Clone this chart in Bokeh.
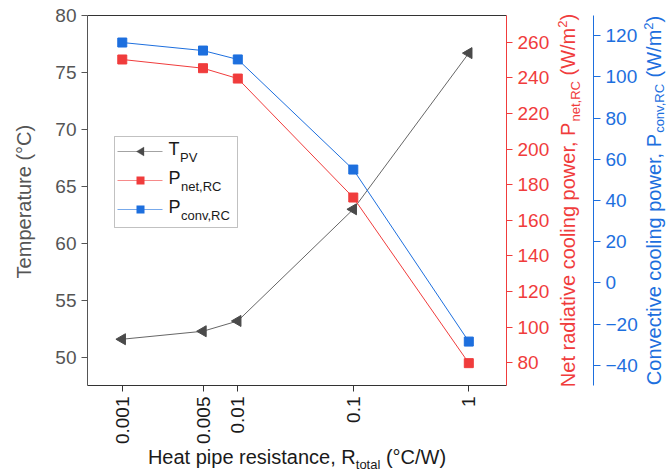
import math
from bokeh.plotting import figure
from bokeh.models import (Range1d, LinearAxis, LogAxis, FixedTicker, Label,
                          BoxAnnotation, PolyAnnotation)
from bokeh.embed import file_html
from bokeh.resources import INLINE

# ---------------- data ----------------
r_total = [0.001, 0.005, 0.01, 0.1, 1]
t_pv = [51.6, 52.3, 53.2, 63.0, 76.7]
p_net = [250.3, 245.4, 239.6, 172.8, 79.8]
p_conv = [116.6, 112.7, 108.4, 55.0, -28.4]

x_ticks = [0.001, 0.005, 0.01, 0.1, 1]
x_tick_labels = ["0.001", "0.005", "0.01", "0.1", "1"]
temp_ticks = [50, 55, 60, 65, 70, 75, 80]
net_ticks = [80, 100, 120, 140, 160, 180, 200, 220, 240, 260]
conv_ticks = [-40, -20, 0, 20, 40, 60, 80, 100, 120]

# visible axis spans
X_VIS = (0.0005, 2.12)
T_VIS = (47.54, 80.0)
NET_VIS = (67.25, 275.0)
CONV_VIS = (-49.7, 129.7)

# ---------------- style / layout ----------------
FONT = "Liberation Sans"
GRAY = "#555555"
DARK = "#333333"
BLACK = "#1a1a1a"
RED = "#f03c3c"
BLUE = "#1d6fde"
TICK_FS = "19px"
TITLE = 20
SUB = 13
BASELINE_FIX = 0.39   # observed offset of the alphabetic baseline, per px of font size

CW, CH = 667, 474
B_LEFT, B_TOP, B_RIGHT, B_BOTTOM = 87, 15, 506, 385   # plotting box on canvas
BLUE_AXIS_X = 593

W = {' ': 278, '(': 333, ')': 333, ',': 278, '.': 278, '/': 278, '°': 400,
     'A': 667, 'B': 667, 'C': 722, 'D': 722, 'E': 667, 'F': 611, 'G': 778, 'H': 722,
     'I': 278, 'J': 500, 'K': 667, 'L': 556, 'M': 833, 'N': 722, 'O': 778, 'P': 667,
     'Q': 778, 'R': 722, 'S': 667, 'T': 611, 'U': 722, 'V': 667, 'W': 944, 'X': 667,
     'Y': 667, 'Z': 611,
     'a': 556, 'b': 556, 'c': 500, 'd': 556, 'e': 556, 'f': 278, 'g': 556, 'h': 556,
     'i': 222, 'j': 222, 'k': 500, 'l': 222, 'm': 833, 'n': 556, 'o': 556, 'p': 556,
     'q': 556, 'r': 333, 's': 500, 't': 278, 'u': 556, 'v': 500, 'w': 722, 'x': 500,
     'y': 500, 'z': 500}
for d in "0123456789":
    W[d] = 556


def tw(s, size):
    return sum(W.get(c, 556) for c in s) / 1000.0 * size


# full-canvas frame: extend the visible spans so they land on the plotting box
lx0, lx1 = math.log10(X_VIS[0]), math.log10(X_VIS[1])
x_per_px = (lx1 - lx0) / (B_RIGHT - B_LEFT)
x_full = (10 ** (lx0 - B_LEFT * x_per_px), 10 ** (lx1 + (CW - B_RIGHT) * x_per_px))
blue_axis_loc = 10 ** (lx1 + (BLUE_AXIS_X - B_RIGHT) * x_per_px)


def y_full(vis):
    per = (vis[1] - vis[0]) / (B_BOTTOM - B_TOP)
    return (vis[0] - (CH - B_BOTTOM) * per, vis[1] + B_TOP * per)


p = figure(width=CW, height=CH, x_axis_type="log",
           x_range=Range1d(*x_full), y_range=Range1d(*y_full(T_VIS)),
           output_backend="svg", toolbar_location=None,
           min_border_left=0, min_border_right=0, min_border_top=0, min_border_bottom=0)
p.extra_y_ranges = {"net": Range1d(*y_full(NET_VIS)), "conv": Range1d(*y_full(CONV_VIS))}
p.xgrid.visible = False
p.ygrid.visible = False
p.outline_line_color = None
p.background_fill_color = "white"
p.border_fill_color = "white"


def style_axis(ax, color, label_color, tick_out=6):
    ax.axis_line_color = color
    ax.axis_line_width = 1
    ax.major_tick_line_color = color
    ax.major_tick_out = tick_out
    ax.major_tick_in = 0
    ax.minor_tick_line_color = None
    ax.major_label_text_font = FONT
    ax.major_label_text_font_size = TICK_FS
    ax.major_label_text_color = label_color
    ax.major_label_standoff = 5


# bottom axis
xa = p.xaxis[0]
xa.ticker = FixedTicker(ticks=x_ticks)
xa.major_label_overrides = dict(zip(x_ticks, x_tick_labels))
xa.major_label_orientation = math.pi / 2
xa.fixed_location = T_VIS[0]
xa.bounds = X_VIS
style_axis(xa, DARK, BLACK)

# left axis
ya = p.yaxis[0]
ya.ticker = FixedTicker(ticks=temp_ticks)
ya.fixed_location = X_VIS[0]
ya.bounds = T_VIS
style_axis(ya, GRAY, GRAY)

# top frame line
ta = LogAxis(ticker=FixedTicker(ticks=[]), fixed_location=T_VIS[1], bounds=X_VIS)
style_axis(ta, DARK, DARK)
p.add_layout(ta, "above")

# red axis (net radiative)
ra = LinearAxis(y_range_name="net", ticker=FixedTicker(ticks=net_ticks),
                fixed_location=X_VIS[1], bounds=NET_VIS)
style_axis(ra, RED, RED)
p.add_layout(ra, "right")

# blue axis (convective)
ba = LinearAxis(y_range_name="conv", ticker=FixedTicker(ticks=conv_ticks),
                fixed_location=blue_axis_loc, bounds=CONV_VIS)
style_axis(ba, BLUE, BLUE, tick_out=7)
p.add_layout(ba, "right")

# ---------------- series ----------------
p.line(r_total, t_pv, line_color="#666666", line_width=1)
p.scatter(r_total, t_pv, marker="triangle", angle=math.pi / 2, size=11,
          fill_color="#4a4a4a", line_color="#4a4a4a")
p.line(r_total, p_net, line_color=RED, line_width=1, y_range_name="net")
p.scatter(r_total, p_net, marker="square", size=9, fill_color=RED,
          line_color=RED, y_range_name="net")
p.line(r_total, p_conv, line_color=BLUE, line_width=1, y_range_name="conv")
p.scatter(r_total, p_conv, marker="square", size=9, fill_color=BLUE,
          line_color=BLUE, y_range_name="conv")


def canvas_label(x, y, text, size, color, angle=0.0):
    fix = BASELINE_FIX * size
    if angle:
        x -= fix
    else:
        y -= fix
    p.add_layout(Label(x=x, y=y, x_units="canvas", y_units="canvas", angle=angle,
                       text=text, text_font=FONT, text_font_size=f"{size}px",
                       text_color=color, text_baseline="alphabetic",
                       text_align="left"))


def canvas_box(left, right, top, bottom, fill, line=None, alpha=1.0):
    p.add_layout(BoxAnnotation(left=left, right=right, top=top, bottom=bottom,
                               left_units="canvas", right_units="canvas",
                               top_units="canvas", bottom_units="canvas",
                               fill_color=fill, fill_alpha=alpha,
                               line_color=line, line_width=1))


# ---------------- legend (hand built) ----------------
LG_L, LG_R, LG_T, LG_B = 114, 237, 136, 227
ROW0, ROW_STEP = 151, 29
canvas_box(LG_L, LG_R, LG_T, LG_B, "white", DARK)
legend_rows = [("T", "PV", "#666666", "#4a4a4a", "tri"),
               ("P", "net,RC", RED, RED, "sq"),
               ("P", "conv,RC", BLUE, BLUE, "sq")]
for i, (main, sub, lcol, mcol, kind) in enumerate(legend_rows):
    yc = ROW0 + i * ROW_STEP
    canvas_box(117, 162, yc - 0.5, yc + 0.5, lcol, alpha=0.6)
    if kind == "sq":
        canvas_box(136, 144, yc - 4, yc + 4, mcol)
    else:
        p.add_layout(PolyAnnotation(xs=[136, 143.5, 143.5], ys=[yc, yc - 4.5, yc + 4.5],
                                    xs_units="canvas", ys_units="canvas",
                                    fill_color=mcol, fill_alpha=1, line_color=mcol))
    canvas_label(168, yc + 5, main, 18, BLACK)
    canvas_label(168 + tw(main, 18) + 0.5, yc + 11, sub, 13, BLACK)


# ---------------- titles with sub/superscripts ----------------
def run(parts, center, base, vertical, color):
    total = sum(gap + tw(t, s) for t, s, sh, gap in parts)
    pos = center + total / 2 if vertical else center - total / 2
    for text, size, shift, gap in parts:
        if vertical:
            pos -= gap
            canvas_label(base + shift, pos, text, size, color, math.pi / 2)
            pos -= tw(text, size)
        else:
            pos += gap
            canvas_label(pos, base + shift, text, size, color)
            pos += tw(text, size)


B_CX = (B_LEFT + B_RIGHT) / 2
B_CY = (B_TOP + B_BOTTOM) / 2
sp20 = tw(" ", TITLE)

run([("Heat pipe resistance, R", TITLE, 0, 0),
     ("total", SUB, 5, 0),
     ("(°C/W)", TITLE, 0, sp20)], B_CX, 464, False, BLACK)

run([("Temperature (°C)", TITLE, 0, 0)], B_CY, 31, True, GRAY)

run([("Net radiative cooling power, P", TITLE, 0, 0),
     ("net,RC", SUB, 5, 0),
     ("(W/m", TITLE, 0, sp20),
     ("2", SUB, -8, 0),
     (")", TITLE, 0, 0)], B_CY, 575, True, RED)

run([("Convective cooling power, P", TITLE, 0, 0),
     ("conv,RC", SUB, 3.5, 0),
     ("(W/m", TITLE, 0, sp20),
     ("2", SUB, -8, 0),
     (")", TITLE, 0, 0)], B_CY, 661, True, BLUE)

open("out.html", "w").write(file_html(p, INLINE))
